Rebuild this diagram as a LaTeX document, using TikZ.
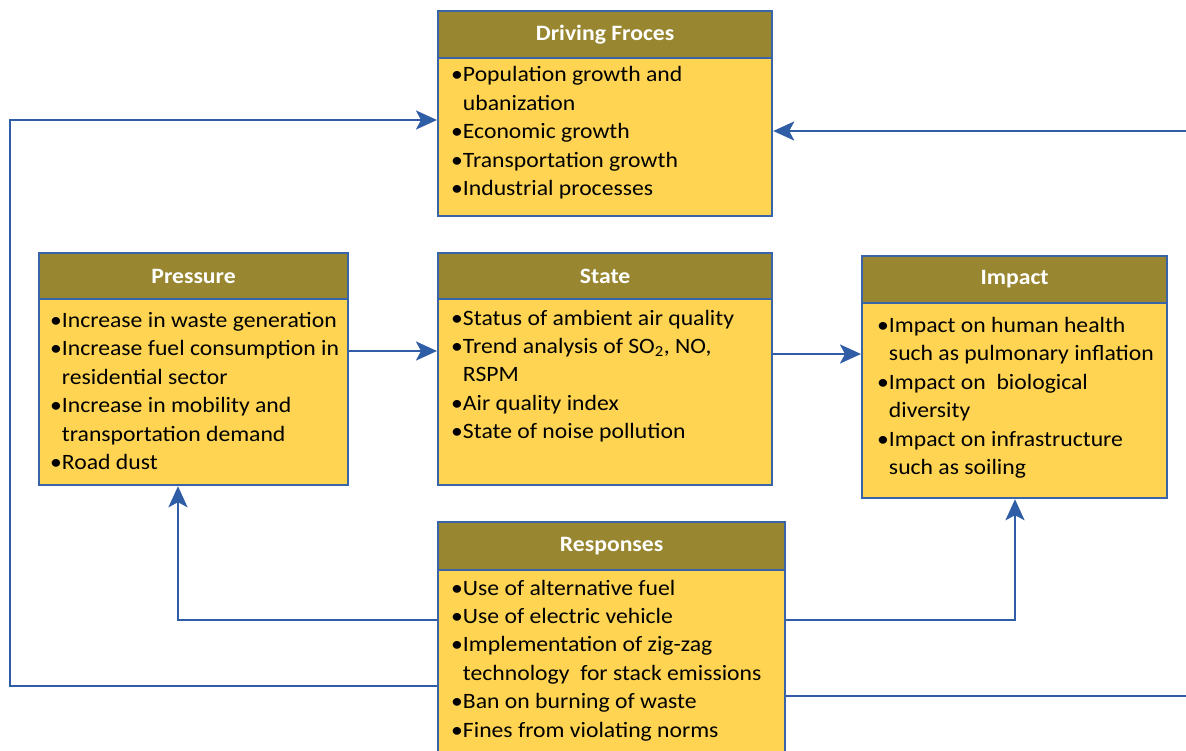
\documentclass[tikz,border=0pt]{standalone}
\usepackage{fontspec}
\setmainfont{Carlito}[FakeStretch=1.08]
\usetikzlibrary{arrows.meta}
\definecolor{hdrcol}{HTML}{988631}
\definecolor{bodycol}{HTML}{FED452}
\definecolor{edgecol}{HTML}{3A64A8}
\definecolor{arrcol}{HTML}{2F5DA6}
\newcommand{\mybul}{\textbullet}
\newcommand{\myind}{\hphantom{\textbullet}}
\newcommand{\mylist}[1]{\begin{tabular}[t]{@{}l@{}}#1\end{tabular}}
\begin{document}
\begin{tikzpicture}[x=1bp,y=-1bp,
 hdr/.style={draw=edgecol, line width=2.2bp, fill=hdrcol, text=white, font=\fontsize{22}{26}\selectfont\bfseries, anchor=north west, inner sep=0pt},
 bodybox/.style={draw=edgecol, line width=2.2bp, fill=bodycol, anchor=north west, inner sep=0pt},
 txt/.style={anchor=base west, inner sep=0pt, font=\fontsize{22}{28.6}\selectfont},
 conn/.style={draw=arrcol, line width=2.7bp},
 arr/.style={conn, -{Stealth[length=21bp,width=19bp,inset=5bp]}}]
\useasboundingbox (0,0) rectangle (1186,751);
\clip (0,0) rectangle (1186,751);
% Driving forces
\node[bodybox, minimum width=334bp, minimum height=158bp] (Db) at (437,57) {};
\node[hdr, minimum width=334bp, minimum height=47bp] (Dh) at (437,10) {Driving Froces};
\node[txt] (Dt) at (451,82) {\mylist{\mybul Population growth and\\ \myind ubanization\\ \mybul Economic growth\\ \mybul Transportation growth\\ \mybul Industrial processes}};
% Pressure
\node[bodybox, minimum width=309bp, minimum height=186bp] (Pb) at (38,298) {};
\node[hdr, minimum width=309bp, minimum height=46bp] (Ph) at (38,252) {Pressure};
\node[txt] (Pt) at (50,327.3) {\mylist{\mybul Increase in waste generation\\ \mybul Increase fuel consumption in\\ \myind residential sector\\ \mybul Increase in mobility and\\ \myind transportation demand\\ \mybul Road dust}};
% State
\node[bodybox, minimum width=334bp, minimum height=186bp] (Sb) at (437,298) {};
\node[hdr, minimum width=334bp, minimum height=46bp] (Sh) at (437,252) {State};
\node[txt] (St) at (451,325) {\mylist{\mybul Status of ambient air quality\\ \mybul Trend analysis of SO\textsubscript{2}, NO,\\ \myind RSPM\\ \mybul Air quality index\\ \mybul State of noise pollution}};
% Impact
\node[bodybox, minimum width=305bp, minimum height=195bp] (Ib) at (861,302) {};
\node[hdr, minimum width=305bp, minimum height=47bp] (Ih) at (861,255) {Impact};
\node[txt] (It) at (877,332.3) {\mylist{\mybul Impact on human health\\ \myind such as pulmonary inflation\\ \mybul Impact on~ biological\\ \myind diversity\\ \mybul Impact on infrastructure\\ \myind such as soiling}};
% Responses
\node[bodybox, minimum width=347bp, minimum height=210bp] (Rb) at (437,569) {};
\node[hdr, minimum width=347bp, minimum height=48bp] (Rh) at (437,521) {Responses};
\node[txt] (Rt) at (451,595) {\mylist{\mybul Use of alternative fuel\\ \mybul Use of electric vehicle\\ \mybul Implementation of zig-zag\\ \myind technology~ for stack emissions\\ \mybul Ban on burning of waste\\ \mybul Fines from violating norms}};
% connectors
\draw[arr] (Pb.east |- 0,351) -- (Sb.west |- 0,351);
\draw[arr] (Sb.east |- 0,354) -- (Ib.west |- 0,354);
\draw[arr] (Rb.west |- 0,620) -| (Pb.south -| 178,0);
\draw[arr] (Rb.east |- 0,620) -| (Ib.south -| 1015,0);
\draw[arr] (Rb.west |- 0,686) -- (10,686) -- (10,120) -- (Db.west |- 0,120);
\draw[arr] (Rb.east |- 0,696) -- (1200,696) -- (1200,131) -- (Db.east |- 0,131);
\end{tikzpicture}
\end{document}
